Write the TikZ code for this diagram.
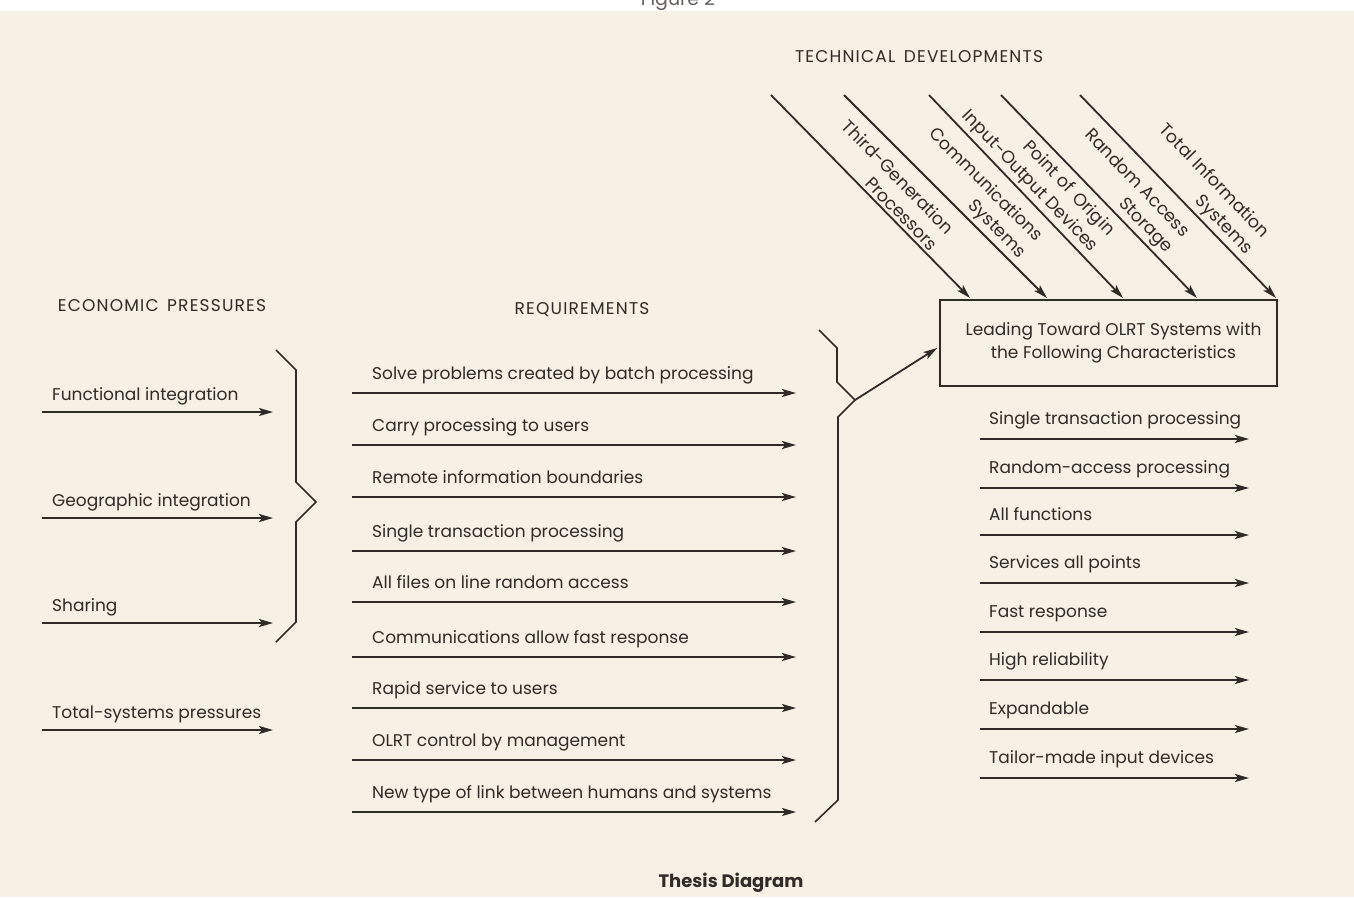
\documentclass[tikz,border=0pt]{standalone}
\usepackage{fontspec}
\setmainfont{Poppins}
\usetikzlibrary{arrows.meta}
\definecolor{paper}{HTML}{F7F0E4}
\definecolor{ink}{HTML}{2F2B27}
\begin{document}
\begin{tikzpicture}[x=1pt,y=-1pt,
  arr/.style={draw=ink, line width=1.8pt, -{Stealth[length=14pt,width=8pt,inset=3pt]}},
  bracket/.style={draw=ink, line width=1.6pt, line join=miter},
  lbl/.style={text=ink, font=\fontsize{17}{21}\selectfont, inner sep=0pt, anchor=base west},
  head/.style={text=ink, font=\fontsize{17}{21}\selectfont\addfontfeature{LetterSpace=7}, inner sep=0pt},
  diag/.style={text=ink, font=\fontsize{17.5}{23}\selectfont, align=right, sloped, above, inner sep=3pt}
]
\useasboundingbox (0,0) rectangle (1354,897);
\fill[white] (0,0) rectangle (1354,11);
\fill[paper] (0,11) rectangle (1354,897);
\node[anchor=base, text=ink!75, font=\fontsize{19}{21}\selectfont, inner sep=0pt] (fig) at (678,5) {Figure 2};

% headings
\node[head] (hEcon) at (162,306) {ECONOMIC\hspace{0.5em}PRESSURES};
\node[head] (hReq) at (582,310) {REQUIREMENTS};
\node[head] (hTech) at (919,57) {TECHNICAL\hspace{0.5em}DEVELOPMENTS};

% economic pressures
\foreach \t/\y [count=\i] in {Functional integration/412, Geographic integration/518, Sharing/623, Total-systems pressures/730}{
  \coordinate (e\i s) at (42,\y);
  \coordinate (e\i e) at (273,\y);
  \node[lbl] (e\i t) at (52,\y-12) {\t};
  \draw[arr] (e\i s) -- (e\i e);
}

% requirements
\foreach \t/\y [count=\i] in {Solve problems created by batch processing/393, Carry processing to users/445, Remote information boundaries/497, Single transaction processing/551, All files on line random access/602, Communications allow fast response/657, Rapid service to users/708, OLRT control by management/760, New type of link between humans and systems/812}{
  \coordinate (r\i s) at (352,\y);
  \coordinate (r\i e) at (796,\y);
  \node[lbl] (r\i t) at (372,\y-14) {\t};
  \draw[arr] (r\i s) -- (r\i e);
}

% characteristics
\foreach \t/\y [count=\i] in {Single transaction processing/439, Random-access processing/488, All functions/535, Services all points/583, Fast response/632, High reliability/680, Expandable/729, Tailor-made input devices/778}{
  \coordinate (c\i s) at (980,\y);
  \coordinate (c\i e) at (1249,\y);
  \node[lbl] (c\i t) at (989,\y-15) {\t};
  \draw[arr] (c\i s) -- (c\i e);
}

% brace joining the economic pressures
\draw[bracket] (276,350) -- (296,370) -- (296,482) -- (316,502) -- (296,522) -- (296,622) -- (276,642);

% target box
\node[draw=ink, line width=1.6pt, minimum width=337pt, minimum height=86pt, align=center,
      text=ink, font=\fontsize{17}{23}\selectfont] (box) at (1108.5,343)
  {\hspace*{10pt}Leading Toward OLRT Systems with\\\hspace*{10pt}the Following Characteristics};

% brace joining the requirements, leading to the box
\coordinate (J) at (855,400);
\draw[bracket] (819,330) -- (837,348) -- (837,382) -- (J) -- (838,417) -- (838,800) -- (815,822);
\draw[arr] (J) -- ([shift={(-2pt,-5pt)}]box.west);

% technical developments
\coordinate (d1s) at (771,95);  \coordinate (d1e) at (970,298);
\coordinate (d2s) at (844,95);  \coordinate (d2e) at (1047,298);
\coordinate (d3s) at (929,95);  \coordinate (d3e) at (1123,298);
\coordinate (d4s) at (1001,95); \coordinate (d4e) at (1197,298);
\coordinate (d5s) at (1080,95); \coordinate (d5e) at (1276,298);
\draw[arr] (d1s) -- node[diag, pos=0.52] (d1t) {Third-Generation\\Processors} (d1e);
\draw[arr] (d2s) -- node[diag, pos=0.57] (d2t) {Communications\\Systems} (d2e);
\draw[arr] (d3s) -- node[diag, pos=0.47] (d3t) {Point of\hspace{0.4em}Origin\\Input-Output Devices} (d3e);
\draw[arr] (d4s) -- node[diag, pos=0.56] (d4t) {Random Access\\Storage} (d4e);
\draw[arr] (d5s) -- node[diag, pos=0.55] (d5t) {Total Information\\Systems} (d5e);

% caption
\node[text=ink, font=\fontsize{18}{21}\selectfont\bfseries] (cap) at (731,883) {Thesis Diagram};
\end{tikzpicture}
\end{document}
